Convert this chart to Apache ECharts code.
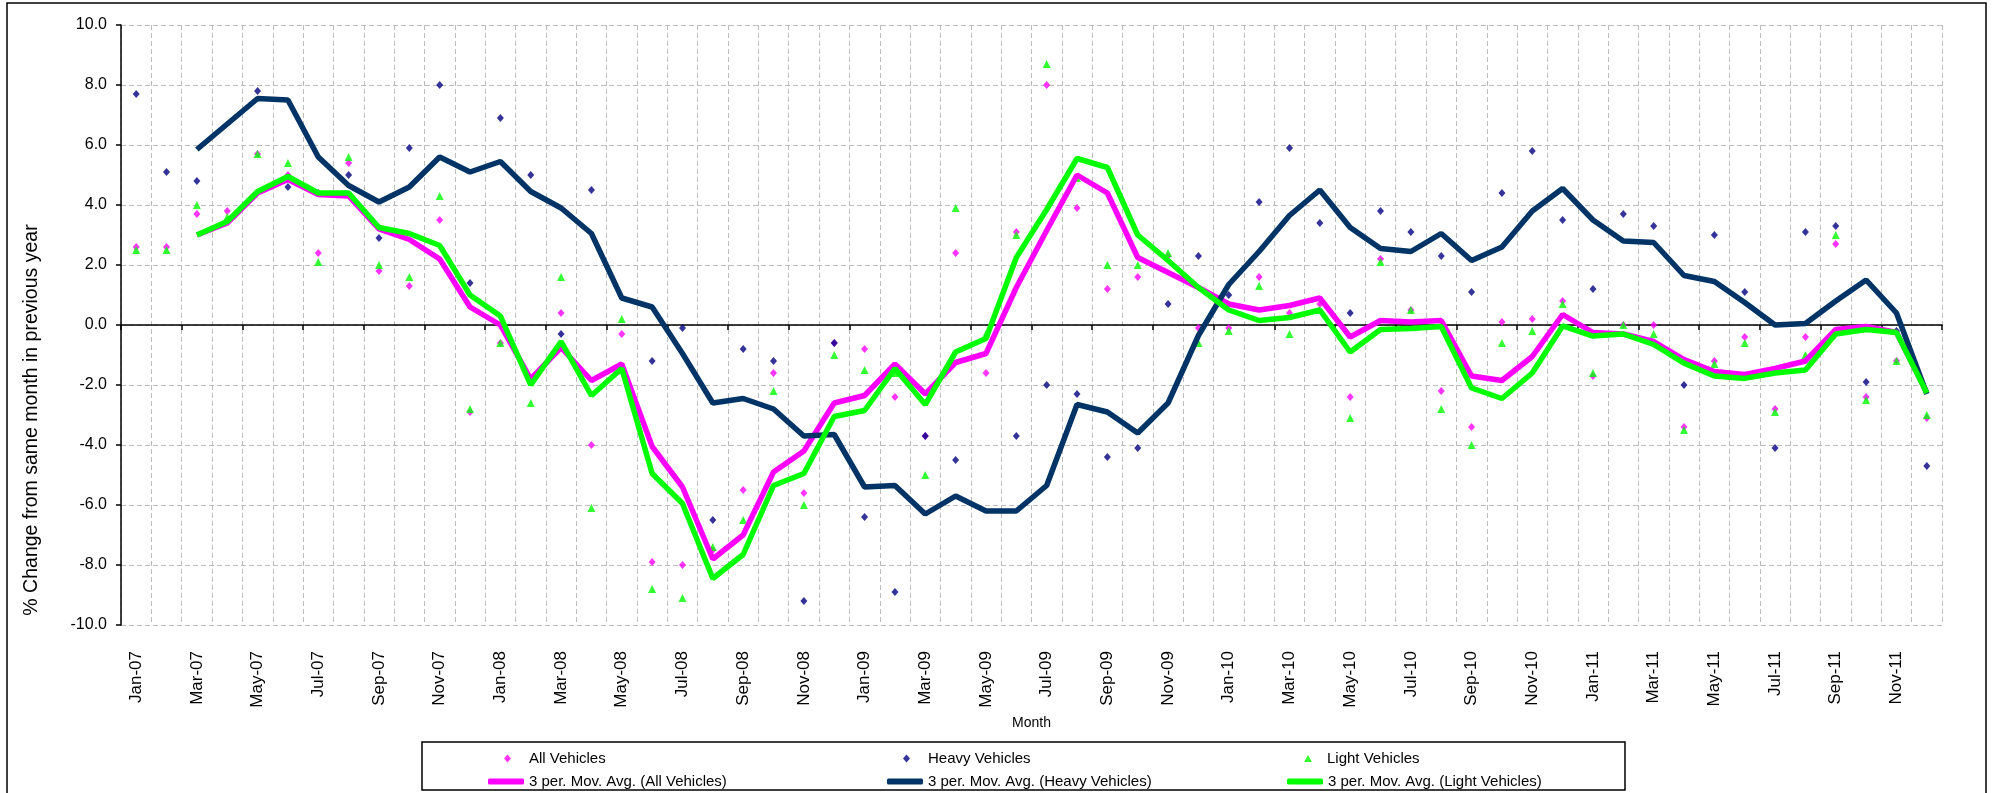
<!DOCTYPE html>
<html>
<head>
<meta charset="utf-8">
<title>Vehicle traffic - % change from same month in previous year</title>
<script src="https://cdn.jsdelivr.net/npm/echarts@6/dist/echarts.min.js"></script>
<style>
  html, body { margin: 0; padding: 0; background: #fff; }
  #chart { width: 1993px; height: 793px; }
</style>
</head>
<body>
<div id="chart"></div>
<script>
const months = [
  'Jan-07', 'Feb-07', 'Mar-07', 'Apr-07', 'May-07', 'Jun-07', 'Jul-07', 'Aug-07', 'Sep-07', 'Oct-07', 'Nov-07', 'Dec-07',
  'Jan-08', 'Feb-08', 'Mar-08', 'Apr-08', 'May-08', 'Jun-08', 'Jul-08', 'Aug-08', 'Sep-08', 'Oct-08', 'Nov-08', 'Dec-08',
  'Jan-09', 'Feb-09', 'Mar-09', 'Apr-09', 'May-09', 'Jun-09', 'Jul-09', 'Aug-09', 'Sep-09', 'Oct-09', 'Nov-09', 'Dec-09',
  'Jan-10', 'Feb-10', 'Mar-10', 'Apr-10', 'May-10', 'Jun-10', 'Jul-10', 'Aug-10', 'Sep-10', 'Oct-10', 'Nov-10', 'Dec-10',
  'Jan-11', 'Feb-11', 'Mar-11', 'Apr-11', 'May-11', 'Jun-11', 'Jul-11', 'Aug-11', 'Sep-11', 'Oct-11', 'Nov-11', 'Dec-11'
];

// monthly points (% change vs same month a year earlier)
const allVehicles = [
  2.6, 2.6, 3.7, 3.8, 5.7, 5.0, 2.4, 5.4, 1.8, 1.3, 3.5, -2.9,
  -0.6, -1.9, 0.4, -4.0, -0.3, -7.9, -8.0, -7.5, -5.5, -1.6, -5.6, -0.6,
  -0.8, -2.4, -3.7, 2.4, -1.6, 3.1, 8.0, 3.9, 1.2, 1.6, 2.3, -0.1,
  -0.1, 1.6, 0.4, 0.7, -2.4, 2.2, 0.5, -2.2, -3.4, 0.1, 0.2, 0.8,
  -1.7, 0.0, 0.0, -3.4, -1.2, -0.4, -2.8, -0.4, 2.7, -2.4, -1.2, -3.1
];
const heavyVehicles = [
  7.7, 5.1, 4.8, 10.2, 7.8, 4.6, 4.4, 5.0, 2.9, 5.9, 8.0, 1.4,
  6.9, 5.0, -0.3, 4.5, -1.5, -1.2, -0.1, -6.5, -0.8, -1.2, -9.2, -0.6,
  -6.4, -8.9, -3.7, -4.5, -10.3, -3.7, -2.0, -2.3, -4.4, -4.1, 0.7, 2.3,
  1.0, 4.1, 5.9, 3.4, 0.4, 3.8, 3.1, 2.3, 1.1, 4.4, 5.8, 3.5,
  1.2, 3.7, 3.3, -2.0, 3.0, 1.1, -4.1, 3.1, 3.3, -1.9, -0.2, -4.7
];
const lightVehicles = [
  2.5, 2.5, 4.0, 3.6, 5.7, 5.4, 2.1, 5.6, 2.0, 1.6, 4.3, -2.8,
  -0.6, -2.6, 1.6, -6.1, 0.2, -8.8, -9.1, -7.4, -6.5, -2.2, -6.0, -1.0,
  -1.5, -1.6, -5.0, 3.9, -0.3, 3.0, 8.7, 4.9, 2.0, 2.0, 2.4, -0.6,
  -0.2, 1.3, -0.3, 0.5, -3.1, 2.1, 0.5, -2.8, -4.0, -0.6, -0.2, 0.7,
  -1.6, 0.0, -0.3, -3.5, -1.3, -0.6, -2.9, -1.0, 3.0, -2.5, -1.2, -3.0
];

// 3 period moving average trend lines
const maAll = [
  null, null, 3.0, 3.4, 4.4, 4.85, 4.35, 4.3, 3.2, 2.85, 2.2, 0.6,
  0.0, -1.8, -0.75, -1.85, -1.3, -4.05, -5.4, -7.8, -7.0, -4.9, -4.2, -2.6,
  -2.35, -1.3, -2.3, -1.25, -0.95, 1.25, 3.15, 5.0, 4.4, 2.25, 1.75, 1.25,
  0.7, 0.5, 0.65, 0.9, -0.4, 0.15, 0.1, 0.15, -1.7, -1.85, -1.05, 0.35,
  -0.25, -0.3, -0.55, -1.15, -1.55, -1.65, -1.45, -1.2, -0.15, -0.05, -0.25, -2.25
];
const maHeavy = [
  null, null, 5.85, 6.7, 7.55, 7.5, 5.6, 4.65, 4.1, 4.6, 5.6, 5.1,
  5.45, 4.45, 3.9, 3.05, 0.9, 0.6, -0.95, -2.6, -2.45, -2.8, -3.7, -3.65,
  -5.4, -5.35, -6.3, -5.7, -6.2, -6.2, -5.35, -2.65, -2.9, -3.6, -2.6, -0.35,
  1.35, 2.45, 3.65, 4.5, 3.25, 2.55, 2.45, 3.05, 2.15, 2.6, 3.8, 4.55,
  3.5, 2.8, 2.75, 1.65, 1.45, 0.75, 0.0, 0.05, 0.8, 1.5, 0.4, -2.3
];
const maLight = [
  null, null, 3.0, 3.45, 4.45, 4.95, 4.4, 4.4, 3.25, 3.05, 2.65, 1.0,
  0.3, -2.0, -0.55, -2.35, -1.45, -4.95, -5.95, -8.45, -7.65, -5.35, -4.95, -3.05,
  -2.85, -1.45, -2.65, -0.9, -0.45, 2.25, 3.85, 5.55, 5.25, 3.0, 2.15, 1.25,
  0.5, 0.15, 0.25, 0.5, -0.9, -0.15, -0.12, -0.05, -2.1, -2.45, -1.6, -0.03,
  -0.37, -0.3, -0.65, -1.27, -1.7, -1.78, -1.6, -1.5, -0.3, -0.15, -0.25, -2.27
];

const FONT = '"Liberation Sans", Arial, sans-serif';
const GRID_LINE = { color: '#bdbdbd', type: [5, 3], width: 1 };

// one legend per entry so the three columns line up like the original
function legendEntry(name, icon, left, top, w, h, textPad) {
  return {
    data: [{ name: name, icon: icon }],
    left: left,
    top: top,
    padding: 0,
    itemWidth: w,
    itemHeight: h,
    selectedMode: false,
    textStyle: { fontFamily: FONT, fontSize: 15, color: '#000', padding: [0, 0, 0, textPad] }
  };
}

const chart = echarts.init(document.getElementById('chart'));

chart.setOption({
  animation: false,
  textStyle: { fontFamily: FONT },
  grid: { left: 121, right: 51, top: 25, bottom: 168 },
  legend: [
    legendEntry('All Vehicles', 'diamond', 504, 751, 7, 8, 13),
    legendEntry('Heavy Vehicles', 'diamond', 903, 751, 7, 8, 13),
    legendEntry('Light Vehicles', 'triangle', 1304, 751, 8, 7, 10),
    legendEntry('3 per. Mov. Avg. (All Vehicles)', 'roundRect', 488, 774, 36, 6, 0),
    legendEntry('3 per. Mov. Avg. (Heavy Vehicles)', 'roundRect', 887, 774, 36, 6, 0),
    legendEntry('3 per. Mov. Avg. (Light Vehicles)', 'roundRect', 1287, 774, 36, 6, 0)
  ],
  xAxis: [{
    type: 'category',
    data: months,
    position: 'bottom',
    boundaryGap: true,
    axisLine: { show: false, onZero: false },
    axisTick: { show: false },
    axisLabel: { interval: 1, rotate: 90, margin: 26, fontSize: 17, color: '#000', fontFamily: FONT },
    splitLine: { show: true, interval: 0, lineStyle: GRID_LINE },
    name: 'Month',
    nameLocation: 'middle',
    nameGap: 91,
    nameTextStyle: { fontSize: 14, color: '#000', fontFamily: FONT }
  }, {
    // axis line drawn through zero with the tick marks
    type: 'category',
    data: months,
    position: 'top',
    boundaryGap: true,
    axisLine: { show: true, onZero: true, lineStyle: { color: '#000', width: 1.5 } },
    axisTick: { show: true, inside: true, interval: 1, length: 5, lineStyle: { color: '#000', width: 1.5 } },
    axisLabel: { show: false },
    splitLine: { show: false }
  }],
  yAxis: {
    type: 'value',
    min: -10,
    max: 10,
    interval: 2,
    axisLine: { show: true, lineStyle: { color: '#000', width: 1.5 } },
    axisTick: { show: true, length: 5, lineStyle: { color: '#000', width: 1.5 } },
    axisLabel: { formatter: v => v.toFixed(1), margin: 14, fontSize: 16, color: '#000', fontFamily: FONT },
    splitLine: { show: true, lineStyle: GRID_LINE }
  },
  graphic: [
    {
      type: 'rect',
      silent: true,
      shape: { x: 7, y: 3, width: 1979, height: 800 },
      style: { fill: 'none', stroke: '#000', lineWidth: 1.5 }
    },
    {
      type: 'rect',
      silent: true,
      shape: { x: 422, y: 742, width: 1203, height: 48 },
      style: { fill: 'none', stroke: '#000', lineWidth: 1.5 }
    },
    {
      type: 'text',
      silent: true,
      x: 32,
      y: 420,
      rotation: Math.PI / 2,
      style: {
        text: '% Change from same month in previous year',
        fontSize: 19.5,
        fontFamily: FONT,
        fill: '#000',
        align: 'center',
        verticalAlign: 'middle'
      }
    }
  ],
  series: [
    {
      name: 'All Vehicles',
      type: 'scatter',
      data: allVehicles,
      symbol: 'diamond',
      symbolSize: [7, 8],
      itemStyle: { color: '#ff00ff' }
    },
    {
      name: 'Heavy Vehicles',
      type: 'scatter',
      data: heavyVehicles,
      symbol: 'diamond',
      symbolSize: [7, 8],
      itemStyle: { color: '#000080' }
    },
    {
      name: 'Light Vehicles',
      type: 'scatter',
      data: lightVehicles,
      symbol: 'triangle',
      symbolSize: 8,
      itemStyle: { color: '#00ff00' }
    },
    {
      name: '3 per. Mov. Avg. (All Vehicles)',
      type: 'line',
      data: maAll,
      showSymbol: false,
      itemStyle: { color: '#ff00ff' },
      lineStyle: { color: '#ff00ff', width: 5.5 }
    },
    {
      name: '3 per. Mov. Avg. (Heavy Vehicles)',
      type: 'line',
      data: maHeavy,
      showSymbol: false,
      itemStyle: { color: '#003366' },
      lineStyle: { color: '#003366', width: 5.5 }
    },
    {
      name: '3 per. Mov. Avg. (Light Vehicles)',
      type: 'line',
      data: maLight,
      showSymbol: false,
      itemStyle: { color: '#00ff00' },
      lineStyle: { color: '#00ff00', width: 5.5 }
    }
  ]
});
</script>
</body>
</html>
